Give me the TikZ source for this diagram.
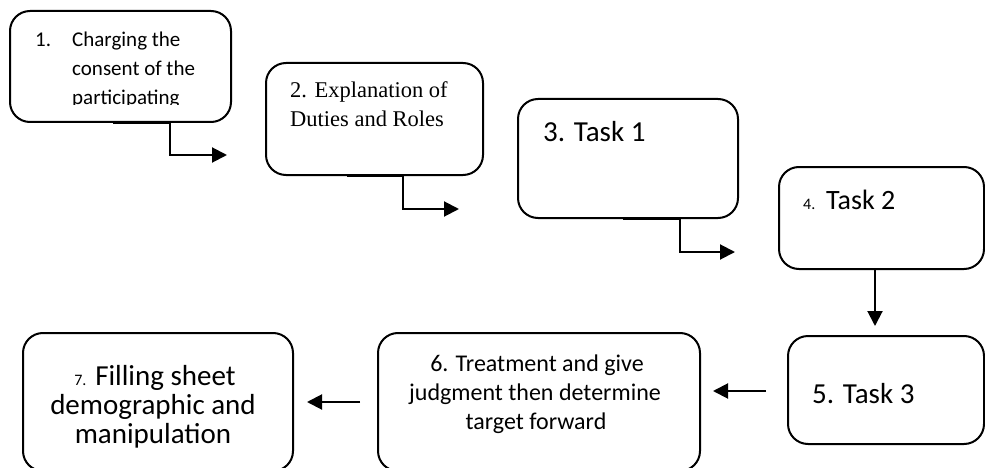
\documentclass[tikz,border=0pt]{standalone}
\usepackage{fontspec}
\setmainfont{Carlito}
\newfontfamily\tnr{Liberation Serif}
\usetikzlibrary{arrows.meta}
\tikzset{
  box/.style={draw, line width=2pt, rounded corners=20pt, anchor=north west, inner sep=0pt},
  conn/.style={line width=2pt, -{Triangle[length=15pt,width=15pt]}},
  txl/.style={anchor=base west, inner sep=0pt},
  txc/.style={anchor=base, inner sep=0pt},
}
\newcommand{\fsz}[2]{\fontsize{#1}{#2}\selectfont}
\begin{document}
\begin{tikzpicture}[x=1pt,y=-1pt]
\useasboundingbox (0,0) rectangle (985,468);
% boxes
\node[box, minimum width=221pt, minimum height=111pt] (b1) at (9,10) {};
\node[box, minimum width=217pt, minimum height=112pt] (b2) at (265,62) {};
\node[box, minimum width=220pt, minimum height=119pt] (b3) at (517,98) {};
\node[box, minimum width=205pt, minimum height=102pt] (b4) at (778,166) {};
\node[box, minimum width=196pt, minimum height=108pt] (b5) at (787,335) {};
\node[box, minimum width=322pt, minimum height=138pt] (b6) at (377,332) {};
\node[box, minimum width=270pt, minimum height=138pt] (b7) at (22,332) {};
% box 1 text (clipped)
\begin{scope}
\clip (9,10) rectangle (230,104.5);
\node[txl, font=\fsz{21}{25}] (t1a) at (35,47) {1.};
\node[txl, font=\fsz{21}{25}] (t1b) at (72,47) {Charging the};
\node[txl, font=\fsz{21}{25}] (t1c) at (72,76) {consent of the};
\node[txl, font=\fsz{21}{25}] (t1d) at (72,105) {participating};
\end{scope}
% box 2 text
\node[txl, font=\tnr\fsz{22.5}{27}] (t2a) at (290,98) {2. Explanation of};
\node[txl, font=\tnr\fsz{22.5}{27}] (t2b) at (290,127) {Duties and Roles};
% box 3
\node[txl, font=\fsz{29}{34}] (t3) at (543,142) {3. Task 1};
% box 4
\node[txl, font=\fsz{16}{19}] (t4a) at (803,209) {4.};
\node[txl, font=\fsz{28}{33}] (t4b) at (826,209) {Task 2};
% box 5
\node[txl, font=\fsz{29}{34}] (t5) at (812,403) {5. Task 3};
% box 6
\node[txc, font=\fsz{24}{29}] (t6a) at (537,371) {6. Treatment and give};
\node[txc, font=\fsz{24}{29}] (t6b) at (535,400) {judgment then determine};
\node[txc, font=\fsz{24}{29}] (t6c) at (536,429) {target forward};
% box 7
\node[txc, font=\fsz{29}{34}] (t7a) at (155,385) {{\fsz{16}{19}7.} Filling sheet};
\node[txc, font=\fsz{29}{34}] (t7b) at (153,414) {demographic and};
\node[txc, font=\fsz{29}{34}] (t7c) at (153,443) {manipulation};
% connector end points
\coordinate (e1) at (227,155);
\coordinate (e2) at (459,209);
\coordinate (e3) at (735,252);
\coordinate (e4) at (875,326);
% connectors
\draw[conn] ([xshift=104pt]b1.south west) -- ([xshift=161pt]b1.south west) |- (e1);
\draw[conn] ([xshift=82pt]b2.south west) -- ([xshift=138pt]b2.south west) |- (e2);
\draw[conn] ([xshift=106pt]b3.south west) -- ([xshift=163pt]b3.south west) |- (e3);
\draw[conn] (e4 |- b4.south) -- (e4);
\draw[conn] ([xshift=-21pt,yshift=-1pt]b5.west) -- ++(-53,0);
\draw[conn] ([xshift=-17pt]b6.west) -- ++(-53,0);
\end{tikzpicture}
\end{document}
